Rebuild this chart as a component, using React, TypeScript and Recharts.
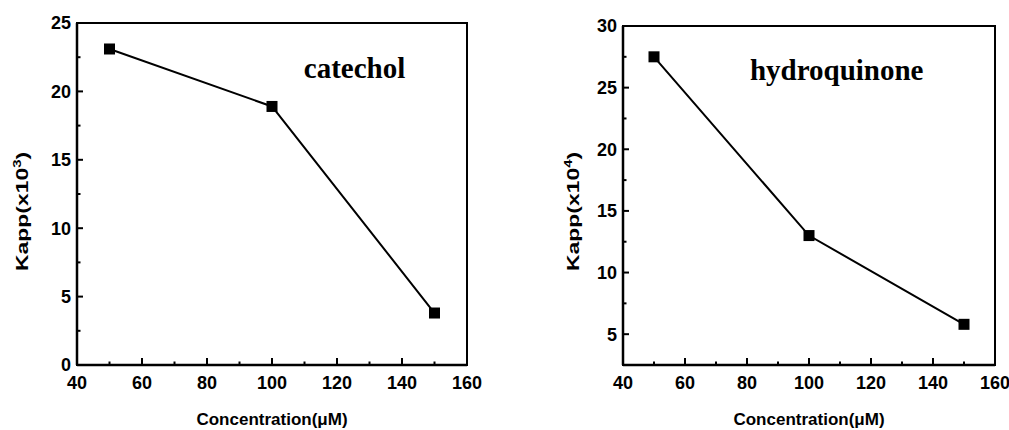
import { LineChart, Line, XAxis, YAxis, ReferenceArea } from 'recharts';

const concentration = [50, 100, 150];
const catecholKapp = [23.1, 18.9, 3.8];
const hydroquinoneKapp = [27.5, 13.0, 5.8];

const xTicks = [40, 50, 60, 70, 80, 90, 100, 110, 120, 130, 140, 150, 160];
const xLabels = [40, 60, 80, 100, 120, 140, 160];
const catecholTicks = [0, 2.5, 5, 7.5, 10, 12.5, 15, 17.5, 20, 22.5, 25];
const catecholLabels = [0, 5, 10, 15, 20, 25];
const hydroTicks = [2.5, 5, 7.5, 10, 12.5, 15, 17.5, 20, 22.5, 25, 27.5, 30];
const hydroLabels = [5, 10, 15, 20, 25, 30];

const SANS = '"Liberation Sans", Arial, sans-serif';
const SERIF = '"Liberation Serif", "Times New Roman", serif';

function XTick(props: any) {
  const { x, y, payload } = props;
  const major = xLabels.includes(payload.value);
  return (
    <g>
      <line x1={x} x2={x} y1={y} y2={y - (major ? 7 : 3.5)} stroke="#000" strokeWidth={2} />
      {major && (
        <text x={x} y={y + 24} textAnchor="middle" fontFamily={SANS} fontWeight="bold" fontSize={18} fill="#000">
          {payload.value}
        </text>
      )}
    </g>
  );
}

function makeYTick(labels: number[]) {
  return function YTick(props: any) {
    const { x, y, payload } = props;
    const major = labels.includes(payload.value);
    return (
      <g>
        <line x1={x} x2={x + (major ? 6 : 3.5)} y1={y} y2={y} stroke="#000" strokeWidth={2} />
        {major && (
          <text x={x - 6} y={y} dy="0.36em" textAnchor="end" fontFamily={SANS} fontWeight="bold" fontSize={18} fill="#000">
            {payload.value}
          </text>
        )}
      </g>
    );
  };
}

function Square(props: any) {
  const { cx, cy, index } = props;
  return <rect key={index} x={cx - 5.5} y={cy - 5.5} width={11} height={11} fill="#000" />;
}

// the source figure is stretched along the y title, so scale the glyphs
function yTitle(cx: number, cy: number, exp: string) {
  return () => (
    <text
      transform={`translate(${cx},${cy}) rotate(-90) scale(1.35,1)`}
      textAnchor="middle"
      fontFamily={SANS}
      fontWeight="bold"
      fontSize={17}
      fill="#000"
    >
      Kapp(x10<tspan dy={-7} fontSize={11}>{exp}</tspan>
      <tspan dy={7}>)</tspan>
    </text>
  );
}

function KappChart(props: {
  values: number[];
  domain: [number, number];
  ticks: number[];
  labels: number[];
  width: number;
  top: number;
  right: number;
  axisWidth: number;
  titleX: number;
  exp: string;
}) {
  const rows = concentration.map((c, i) => ({ c, k: props.values[i] }));
  const midX = props.axisWidth + (props.width - props.axisWidth - props.right) / 2;
  return (
    <LineChart
      width={props.width}
      height={430}
      data={rows}
      margin={{ top: props.top, right: props.right, left: 0, bottom: 0 }}
    >
      <XAxis
        dataKey="c"
        type="number"
        domain={[40, 160]}
        ticks={xTicks}
        interval={0}
        tickSize={0}
        tickMargin={0}
        tickLine={false}
        height={65}
        axisLine={{ stroke: '#000', strokeWidth: 2.5 }}
        tick={<XTick />}
        label={{
          content: () => (
            <text x={midX} y={425} textAnchor="middle" fontFamily={SANS} fontWeight="bold" fontSize={17} fill="#000">
              Concentration(μM)
            </text>
          ),
        }}
      />
      <YAxis
        type="number"
        domain={props.domain}
        ticks={props.ticks}
        interval={0}
        tickSize={0}
        tickMargin={0}
        tickLine={false}
        width={props.axisWidth}
        axisLine={{ stroke: '#000', strokeWidth: 2.5 }}
        tick={makeYTick(props.labels)}
        label={{ content: yTitle(props.titleX, 211.5, props.exp) }}
      />
      <ReferenceArea
        x1={40}
        x2={160}
        y1={props.domain[0]}
        y2={props.domain[1]}
        fill="none"
        stroke="#000"
        strokeWidth={2}
        fillOpacity={0}
      />
      <Line
        type="linear"
        dataKey="k"
        stroke="#000"
        strokeWidth={2}
        dot={Square}
        activeDot={false}
        isAnimationActive={false}
      />
    </LineChart>
  );
}

export default function App() {
  return (
    <div style={{ position: 'absolute', left: 0, top: 0, width: 1009, height: 430, background: '#fff' }}>
      <div style={{ position: 'absolute', left: 0, top: 0 }}>
        <KappChart
          values={catecholKapp}
          domain={[0, 25]}
          ticks={catecholTicks}
          labels={catecholLabels}
          width={500}
          top={23}
          right={33}
          axisWidth={77}
          titleX={28}
          exp="3"
        />
      </div>
      <div style={{ position: 'absolute', left: 500, top: 0 }}>
        <KappChart
          values={hydroquinoneKapp}
          domain={[2.5, 30]}
          ticks={hydroTicks}
          labels={hydroLabels}
          width={509}
          top={26}
          right={14}
          axisWidth={123}
          titleX={79}
          exp="4"
        />
      </div>
      <svg
        width={1009}
        height={430}
        style={{ position: 'absolute', left: 0, top: 0, pointerEvents: 'none' }}
      >
        <text x={354.5} y={78} textAnchor="middle" fontFamily={SERIF} fontWeight="bold" fontSize={29} fill="#000">
          catechol
        </text>
        <text x={836.7} y={80} textAnchor="middle" fontFamily={SERIF} fontWeight="bold" fontSize={29} fill="#000">
          hydroquinone
        </text>
      </svg>
    </div>
  );
}
